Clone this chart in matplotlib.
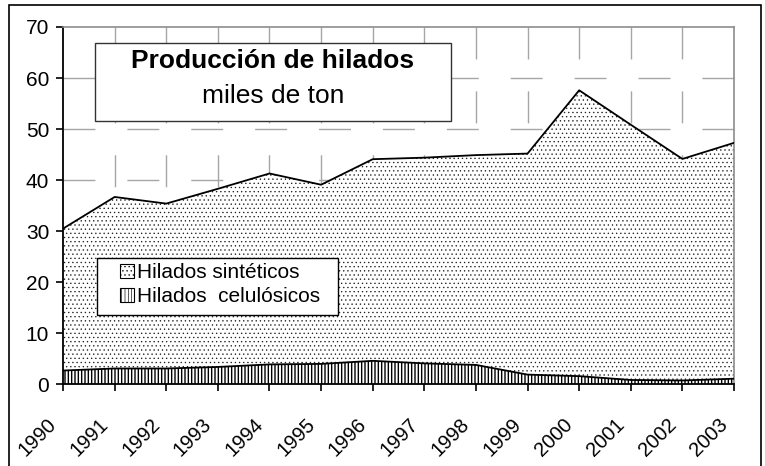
import numpy as np
import matplotlib
matplotlib.use("Agg")
import matplotlib.pyplot as plt
from matplotlib.patches import Rectangle
from matplotlib.transforms import ScaledTranslation

plt.rcParams['font.family'] = ['Liberation Sans', 'DejaVu Sans']
plt.rcParams['hatch.color'] = 'black'

# producción de hilados, miles de ton
years = [1990, 1991, 1992, 1993, 1994, 1995, 1996,
         1997, 1998, 1999, 2000, 2001, 2002, 2003]
celulosicos = [2.7, 3.1, 3.1, 3.4, 3.9, 4.0, 4.6,
               4.1, 3.8, 1.9, 1.6, 0.85, 0.75, 1.1]
sinteticos = [27.8, 33.6, 32.3, 34.9, 37.4, 35.1, 39.5,
              40.3, 41.1, 43.3, 56.0, 50.0, 43.4, 46.2]
y_ticks = [0, 10, 20, 30, 40, 50, 60, 70]

label_sint = "Hilados sintéticos"
label_cel = "Hilados  celulósicos"
titulo = "Producción de hilados"
subtitulo = "miles de ton"

x = np.array(years)
cel = np.array(celulosicos)
total = cel + np.array(sinteticos)

fig = plt.figure(figsize=(7.65, 4.66), dpi=100)
ax = fig.add_axes([0.0824, 0.1753, 0.8771, 0.7668])

# rejilla discontinua
grid_style = dict(color='#a6a6a6', linewidth=1.0, linestyles=(0, (23, 23)), zorder=0)
ax.hlines(y_ticks[1:-1], years[0], years[-1], **grid_style)
ax.vlines(years[1:-1], y_ticks[-1], y_ticks[0], **grid_style)

# áreas apiladas
plt.rcParams['hatch.linewidth'] = 1.0
ax.fill_between(x, 0, cel, facecolor='white', edgecolor='black',
                hatch='|||||', linewidth=0, zorder=2, label=label_cel)
plt.rcParams['hatch.linewidth'] = 0.45
ax.fill_between(x, cel, total, facecolor='white', edgecolor='#202020',
                hatch='....', linewidth=0, zorder=2, label=label_sint)
ax.plot(x, cel, color='black', linewidth=1.3, zorder=3)
ax.plot(x, total, color='black', linewidth=1.3, zorder=3)

ax.set_xlim(years[0], years[-1])
ax.set_ylim(y_ticks[0], y_ticks[-1])
ax.set_xticks(years)
ax.set_xticklabels([str(v) for v in years], rotation=45, ha='right',
                   va='top', rotation_mode='anchor', fontsize=14.5)
ax.set_yticks(y_ticks)
ax.set_yticklabels([str(v) for v in y_ticks], fontsize=15)
ax.tick_params(axis='both', direction='out', length=5, width=1.2, colors='black')
ax.tick_params(axis='x', pad=12)
ax.tick_params(axis='y', pad=5)

# desplazar las etiquetas de los años hacia abajo a la izquierda
shift = ScaledTranslation(-16 / 100, -7 / 100, fig.dpi_scale_trans)
for lbl in ax.get_xticklabels():
    lbl.set_transform(lbl.get_transform() + shift)

for side in ['left', 'bottom']:
    ax.spines[side].set_color('black')
    ax.spines[side].set_linewidth(1.3)
for side in ['top', 'right']:
    ax.spines[side].set_color('#8c8c8c')
    ax.spines[side].set_linewidth(1.2)

# leyenda: recuadro propio para dejar más margen lateral
ax.add_patch(Rectangle((0.0507, 0.194), 0.3591, 0.1595, transform=ax.transAxes,
                       facecolor='white', edgecolor='black', linewidth=1.0,
                       zorder=4))
handles, labels = ax.get_legend_handles_labels()
leg = ax.legend(handles[::-1], labels[::-1], loc='upper left',
                bbox_to_anchor=(0.085, 0.339), borderaxespad=0,
                fontsize=15, frameon=False,
                handlelength=0.65, handleheight=0.65, handletextpad=0.15,
                labelspacing=0.25, borderpad=0)
leg.set_zorder(5)
for h in leg.legend_handles:
    h.set_linewidth(0.8)
    h.set_edgecolor('black')

# recuadro del título
fig.patches.append(Rectangle((95 / 765, 1 - 121 / 466), 356 / 765, 78 / 466,
                             transform=fig.transFigure, facecolor='white',
                             edgecolor='#333333', linewidth=1.0, zorder=4))
fig.text(273 / 765, 1 - 61 / 466, titulo, ha='center', va='center',
         fontsize=19, fontweight='bold', zorder=5)
fig.text(273 / 765, 1 - 96 / 466, subtitulo, ha='center', va='center',
         fontsize=19, zorder=5)

# marco exterior
fig.patches.append(Rectangle((9 / 765, -0.05), 752 / 765, 1.05 - 5 / 466,
                             transform=fig.transFigure, facecolor='none',
                             edgecolor='black', linewidth=1.2, zorder=0))

fig.savefig("out.png", dpi=100)
